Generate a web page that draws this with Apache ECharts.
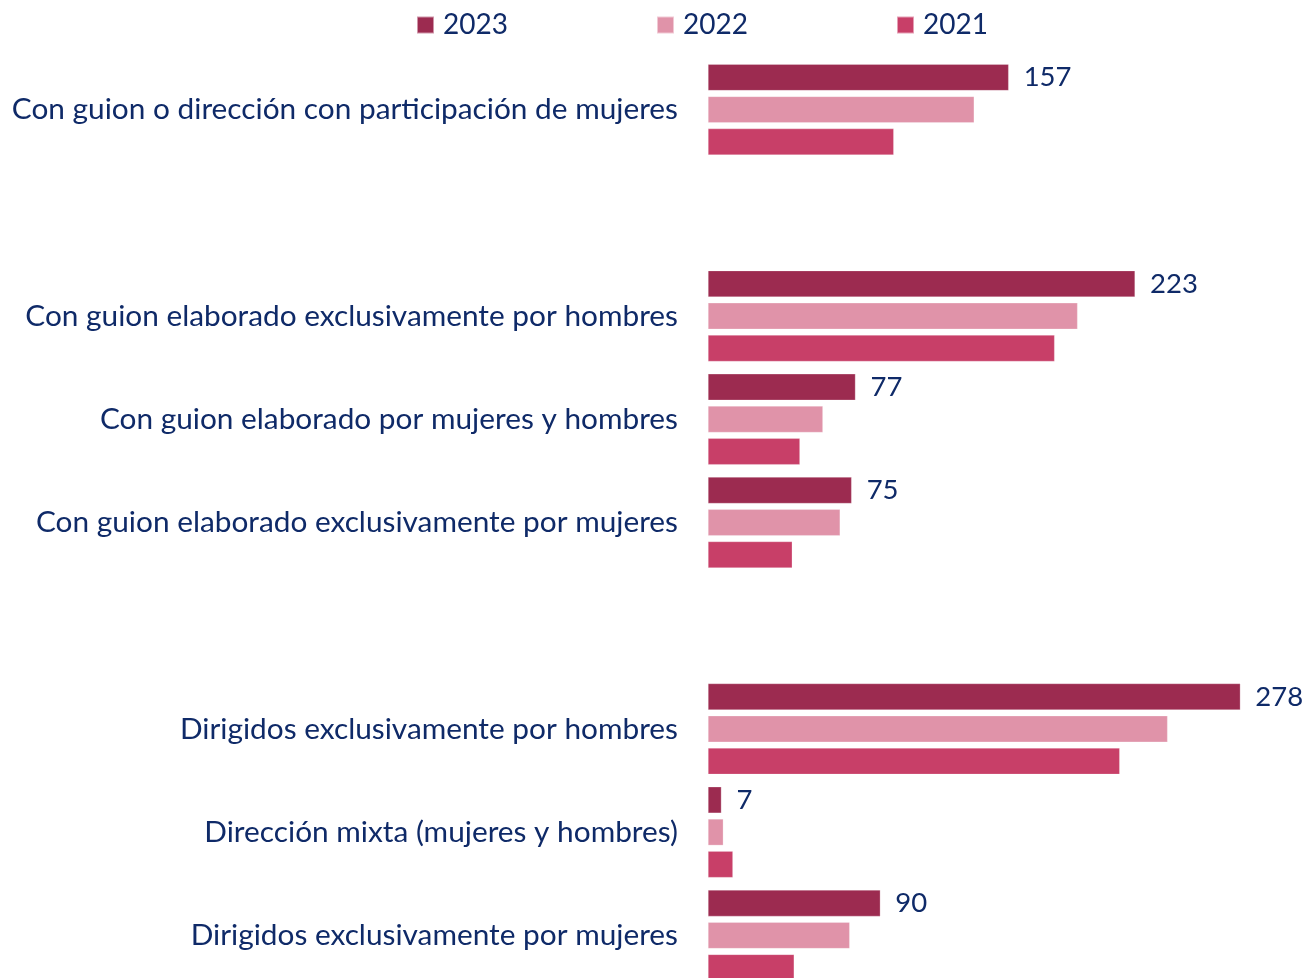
<!DOCTYPE html>
<html>
<head>
<meta charset="utf-8">
<script src="https://cdn.jsdelivr.net/npm/echarts@6/dist/echarts.min.js"></script>
<style>
  html, body { margin: 0; padding: 0; background: #fff; }
  #chart { width: 1310px; height: 978px; }
</style>
</head>
<body>
<div id="chart"></div>
<script>
  // categorias (las cadenas vacias son los huecos entre bloques)
  var categories = [
    'Con guion o dirección con participación de mujeres',
    '',
    'Con guion elaborado exclusivamente por hombres',
    'Con guion elaborado por mujeres y hombres',
    'Con guion elaborado exclusivamente por mujeres',
    '',
    'Dirigidos exclusivamente por hombres',
    'Dirección mixta (mujeres y hombres)',
    'Dirigidos exclusivamente por mujeres'
  ]
  var years = ['2023', '2022', '2021']
  var values2023 = [157, null, 223, 77, 75, null, 278, 7, 90]
  var values2022 = [139, null, 193, 60, 69, null, 240, 8, 74]
  var values2021 = [97, null, 181, 48, 44, null, 215, 13, 45]
  var colors = ['#9C2B50', '#E093A9', '#C83F68']

  var navy = '#0F2A68'
  var font = 'Lato'

  var chart = echarts.init(document.getElementById('chart'))

  function makeSeries (name, data, color, withLabel) {
    return {
      name: name,
      type: 'bar',
      data: data,
      barGap: '22%',
      barCategoryGap: '12%',
      itemStyle: { color: color, borderColor: 'rgba(255,255,255,0.5)', borderWidth: 0.5 },
      label: {
        show: withLabel,
        position: 'right',
        distance: 15,
        color: navy,
        fontFamily: font,
        fontSize: 27.5,
        padding: [4, 0, 0, 0]
      },
      animation: false
    }
  }

  function makeLegend (name, left) {
    return {
      data: [name],
      left: left,
      top: 6,
      itemWidth: 17,
      itemHeight: 17,
      itemGap: 0,
      icon: 'rect',
      textStyle: { color: navy, fontFamily: font, fontSize: 28, padding: [0, 0, 0, 4] }
    }
  }

  var option = {
    backgroundColor: '#fff',
    animation: false,
    legend: [
      makeLegend('2023', 411),
      makeLegend('2022', 651),
      makeLegend('2021', 891)
    ],
    grid: {
      left: 708,
      top: 58,
      width: 574.5,
      height: 929,
      containLabel: false,
      outerBoundsMode: 'none'
    },
    xAxis: {
      type: 'value',
      min: 0,
      max: 300,
      show: false
    },
    yAxis: {
      type: 'category',
      data: categories,
      inverse: true,
      axisLine: { show: false },
      axisTick: { show: false },
      axisLabel: {
        margin: 30,
        color: navy,
        fontFamily: font,
        fontSize: 29.8
      }
    },
    series: [
      makeSeries(years[0], values2023, colors[0], true),
      makeSeries(years[1], values2022, colors[1], false),
      makeSeries(years[2], values2021, colors[2], false)
    ]
  }

  chart.setOption(option)
</script>
</body>
</html>
